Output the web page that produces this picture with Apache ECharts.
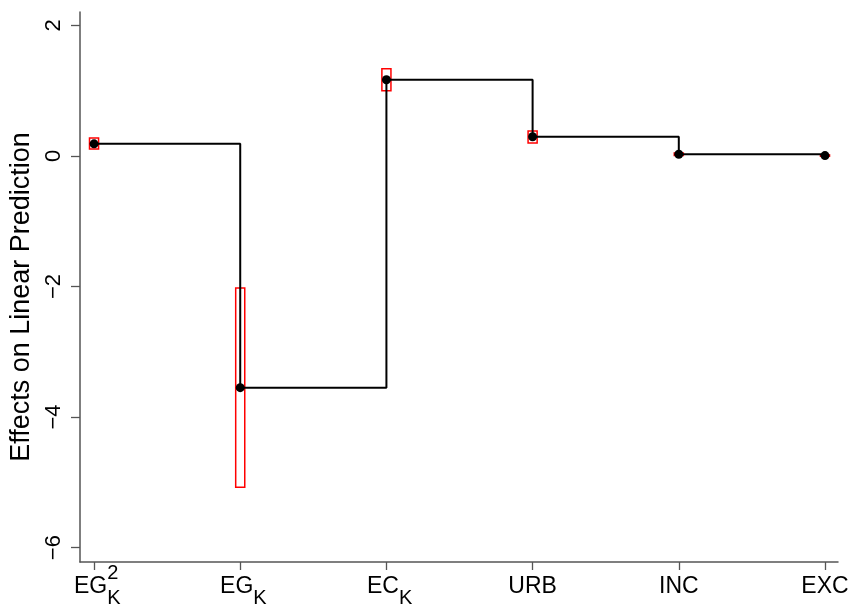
<!DOCTYPE html>
<html>
<head>
<meta charset="utf-8">
<script src="https://cdn.jsdelivr.net/npm/echarts@6/dist/echarts.min.js"></script>
<style>
  html, body { margin: 0; padding: 0; background: #fff; }
  #chart { width: 861px; height: 606px; }
</style>
</head>
<body>
<div id="chart"></div>
<script>
// categories: base text, subscript, superscript
const catBase = ['EG', 'EG', 'EC', 'URB', 'INC', 'EXC'];
const catSub = ['K', 'K', 'K', '', '', ''];
const catSup = ['2', '', '', '', '', ''];

// point estimates and interval bounds
const effects = [0.185, -3.55, 1.166, 0.294, 0.025, 0.005];
const ciLow = [0.107, -5.077, 0.997, 0.199, 0.005, -0.005];
const ciHigh = [0.276, -2.025, 1.334, 0.383, 0.045, 0.015];

const yTicks = [-6, -4, -2, 0, 2];
const xTicks = [0, 1, 2, 3, 4, 5];

const FONT = 'Liberation Sans';

const chart = echarts.init(document.getElementById('chart'));

const lineData = effects.map((v, i) => [i, v]);
const boxData = effects.map((v, i) => [i, ciLow[i], ciHigh[i]]);

const halfW = 0.031;

chart.setOption({
  animation: false,
  backgroundColor: '#fff',
  grid: { left: 80, right: 23, top: 12, bottom: 44, outerBoundsMode: 'none', containLabel: false },
  xAxis: {
    type: 'value',
    min: -0.096,
    max: 5.089,
    splitLine: { show: false },
    axisLine: { onZero: false, lineStyle: { color: '#555', width: 1.5 } },
    axisTick: {
      customValues: xTicks,
      length: 8,
      lineStyle: { color: '#555', width: 1.3 },
    },
    axisLabel: {
      customValues: xTicks,
      margin: 1,
      formatter: (v) => {
        const i = Math.round(v);
        let s = '{b|' + catBase[i] + '}';
        if (catSup[i]) s += '{sup|' + catSup[i] + '}';
        if (catSub[i]) s += '{sub|' + catSub[i] + '}';
        return s;
      },
      rich: {
        b: { fontFamily: FONT, fontSize: 23, color: '#000', align: 'left', verticalAlign: 'top', padding: [12, 0, 0, 0] },
        sup: { fontFamily: FONT, fontSize: 20, color: '#000', align: 'left', verticalAlign: 'top', width: 0 },
        sub: { fontFamily: FONT, fontSize: 20, color: '#000', align: 'left', verticalAlign: 'top', padding: [25, 0, 0, 0], width: 7 },
      },
    },
  },
  yAxis: {
    type: 'value',
    min: -6.22,
    max: 2.204,
    splitLine: { show: false },
    name: 'Effects on Linear Prediction',
    nameLocation: 'middle',
    nameRotate: 90,
    nameGap: 43,
    nameTextStyle: { fontFamily: FONT, fontSize: 27, color: '#000', padding: [0, 20, 0, 0] },
    axisLine: { show: true, onZero: false, lineStyle: { color: '#555', width: 1.5 } },
    axisTick: {
      show: true,
      customValues: yTicks,
      length: 9,
      lineStyle: { color: '#555', width: 1.3 },
    },
    axisLabel: {
      customValues: yTicks,
      rotate: 90,
      margin: 15,
      fontFamily: FONT,
      fontSize: 22,
      color: '#000',
      formatter: (v) => String(v).replace('-', '\u2212'),
    },
  },
  series: [
    {
      type: 'custom',
      z: 1,
      data: boxData,
      renderItem: (params, api) => {
        const x = api.value(0);
        const p1 = api.coord([x - halfW, api.value(2)]);
        const p2 = api.coord([x + halfW, api.value(1)]);
        return {
          type: 'rect',
          shape: { x: p1[0], y: p1[1], width: p2[0] - p1[0], height: p2[1] - p1[1] },
          style: { fill: 'none', stroke: '#ff0000', lineWidth: 1.5 },
        };
      },
    },
    {
      type: 'line',
      z: 2,
      step: 'end',
      data: lineData,
      symbol: 'circle',
      symbolSize: 9,
      itemStyle: { color: '#000' },
      lineStyle: { color: '#000', width: 2 },
    },
  ],
});
</script>
</body>
</html>
